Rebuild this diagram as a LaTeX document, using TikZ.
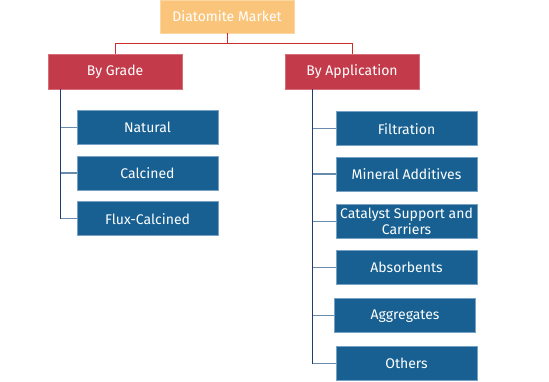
\documentclass[tikz,border=0pt]{standalone}
\usepackage{fontspec}
\setmainfont{Fira Sans}
\definecolor{topfill}{RGB}{250,197,122}
\definecolor{topline}{RGB}{252,214,160}
\definecolor{redfill}{RGB}{195,59,74}
\definecolor{redline}{RGB}{214,110,120}
\definecolor{bluefill}{RGB}{23,96,145}
\definecolor{blueline}{RGB}{120,160,195}
\definecolor{conred}{RGB}{205,45,40}
\definecolor{connavy}{RGB}{30,62,110}
\definecolor{constub}{RGB}{105,140,172}
\tikzset{
  basebox/.style={inner sep=0pt, text=white, font=\fontsize{14}{15.5}\selectfont, line width=0.8pt, align=center},
  topbox/.style={basebox, fill=topfill, draw=topline, minimum width=134pt, minimum height=33pt},
  segbox/.style={basebox, fill=redfill, draw=redline, minimum width=134pt, minimum height=35pt},
  itembox/.style={basebox, fill=bluefill, draw=blueline, minimum width=141pt, minimum height=34pt},
  redcon/.style={draw=conred, line width=1pt},
  trunk/.style={draw=connavy, line width=1pt},
  stub/.style={draw=constub, line width=1.2pt}
}
\begin{document}
\begin{tikzpicture}[x=1pt,y=-1pt]
\useasboundingbox (0,0) rectangle (549,382);
\node[topbox] (top) at (227,16.5) {Diatomite Market};
\node[segbox] (grade) at (115,71.5) {By Grade};
\node[segbox] (app) at (352,71.5) {By Application};

\node[itembox] (natural) at (147.5,127.5) {Natural};
\node[itembox] (calcined) at (147.5,173) {Calcined};
\node[itembox] (flux) at (147.5,218.7) {Flux-Calcined};

\node[itembox] (filt) at (406.5,128.7) {Filtration};
\node[itembox] (mineral) at (406.5,174) {Mineral Additives};
\node[itembox] (catalyst) at (406.5,221.5) {Catalyst Support and\\Carriers};
\node[itembox] (absorb) at (406.5,267.7) {Absorbents};
\node[itembox] (aggr) at (405,315.7) {Aggregates};
\node[itembox] (others) at (406.5,363.3) {Others};

\draw[redcon] (top.south) -- ++(0,10) -| (grade.north);
\draw[redcon] (top.south) ++(0,10) -| (app.north);

\coordinate (lt) at ([xshift=13pt]grade.south west);
\coordinate (rt) at ([xshift=28pt]app.south west);
\draw[trunk] (lt) |- (flux.west);
\draw[trunk] (rt) |- (others.west);
\foreach \n in {natural,calcined,flux}{
  \draw[stub] (lt |- \n.west) -- (\n.west);
}
\foreach \n in {filt,mineral,catalyst,absorb,aggr,others}{
  \draw[stub] (rt |- \n.west) -- (\n.west);
}
\end{tikzpicture}
\end{document}
